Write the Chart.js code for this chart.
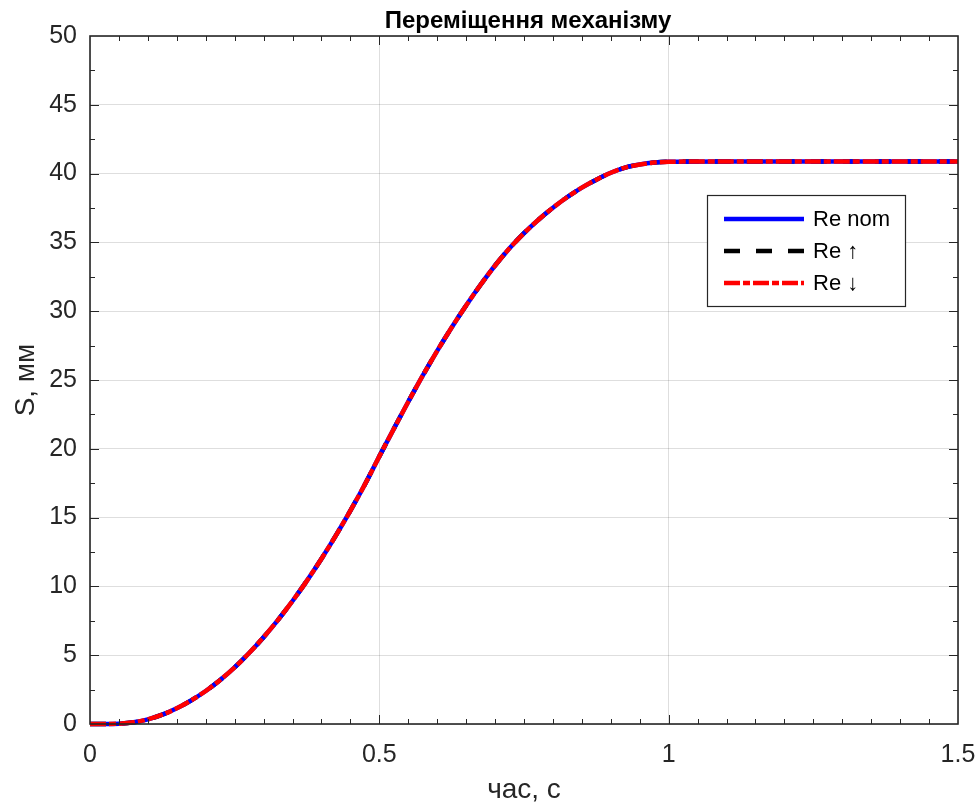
<!DOCTYPE html>
<html>
<head>
<meta charset="utf-8">
<script src="https://cdn.jsdelivr.net/npm/chart.js@4"></script>
<style>
  html, body { margin: 0; background: #fff; }
  #wrap { width: 980px; height: 812px; }
</style>
</head>
<body>
<div id="wrap"><canvas id="c" width="980" height="812"></canvas></div>
<script>
// time, s
const TIME = [0, 0.025, 0.05, 0.075, 0.1, 0.125, 0.15, 0.175, 0.2, 0.225, 0.25, 0.275, 0.3, 0.325,
  0.35, 0.375, 0.4, 0.425, 0.45, 0.475, 0.5, 0.525, 0.55, 0.575, 0.6, 0.625, 0.65, 0.675, 0.7,
  0.725, 0.75, 0.775, 0.8, 0.825, 0.85, 0.875, 0.9, 0.925, 0.95, 0.975, 1.0, 1.1, 1.2, 1.3, 1.4, 1.5];
// displacement, mm (— the three runs lie on top of each other)
const S_NOM = [0, 0, 0.02, 0.12, 0.34, 0.68, 1.14, 1.72, 2.4, 3.2, 4.12, 5.16, 6.31, 7.57,
  8.94, 10.42, 12.01, 13.71, 15.51, 17.41, 19.45, 21.45, 23.42, 25.32, 27.12, 28.82, 30.42, 31.92, 33.32,
  34.57, 35.67, 36.65, 37.52, 38.3, 38.98, 39.56, 40.06, 40.44, 40.66, 40.8, 40.86, 40.88, 40.88, 40.88, 40.88, 40.88];
const S_UP = [0, 0, 0.02, 0.12, 0.34, 0.68, 1.14, 1.72, 2.4, 3.2, 4.12, 5.16, 6.31, 7.57,
  8.94, 10.42, 12.01, 13.71, 15.51, 17.41, 19.45, 21.45, 23.42, 25.32, 27.12, 28.82, 30.42, 31.92, 33.32,
  34.57, 35.67, 36.65, 37.52, 38.3, 38.98, 39.56, 40.06, 40.44, 40.66, 40.8, 40.86, 40.88, 40.88, 40.88, 40.88, 40.88];
const S_DOWN = [0, 0, 0.02, 0.12, 0.34, 0.68, 1.14, 1.72, 2.4, 3.2, 4.12, 5.16, 6.31, 7.57,
  8.94, 10.42, 12.01, 13.71, 15.51, 17.41, 19.45, 21.45, 23.42, 25.32, 27.12, 28.82, 30.42, 31.92, 33.32,
  34.57, 35.67, 36.65, 37.52, 38.3, 38.98, 39.56, 40.06, 40.44, 40.66, 40.8, 40.86, 40.88, 40.88, 40.88, 40.88, 40.88];

const TITLE = "Переміщення механізму";
const SERIES_LABELS = ["Re nom", "Re ↑", "Re ↓"];
const X_TICKS = [0, 0.5, 1, 1.5];
const Y_TICKS = [0, 5, 10, 15, 20, 25, 30, 35, 40, 45, 50];

const INK = "#262626";
const FONT = "'Liberation Sans', Arial, sans-serif";

const pts = ys => TIME.map((t, i) => ({ x: t, y: ys[i] }));

// MATLAB-ish box: frame, inward major + minor ticks on all four sides, title over the
// plot area (not the canvas) and a boxed legend
const matlabAxes = {
  id: "matlabAxes",
  afterDraw(chart) {
    const { ctx, chartArea: a, scales: { x, y } } = chart;
    ctx.save();
    ctx.strokeStyle = INK;
    ctx.lineWidth = 1;
    const tick = (px, horiz, len) => {
      ctx.beginPath();
      if (horiz) {
        ctx.moveTo(px, a.bottom); ctx.lineTo(px, a.bottom - len);
        ctx.moveTo(px, a.top); ctx.lineTo(px, a.top + len);
      } else {
        ctx.moveTo(a.left, px); ctx.lineTo(a.left + len, px);
        ctx.moveTo(a.right, px); ctx.lineTo(a.right - len, px);
      }
      ctx.stroke();
    };
    for (let i = 1; i < 30; i++) tick(Math.round(x.getPixelForValue(i * 0.05)) + 0.5, true, i % 10 ? 5 : 9);
    for (let i = 1; i < 20; i++) tick(Math.round(y.getPixelForValue(i * 2.5)) + 0.5, false, i % 2 ? 5 : 9);
    ctx.lineWidth = 1.6;
    ctx.strokeRect(a.left, a.top, a.right - a.left, a.bottom - a.top);

    // title
    ctx.fillStyle = "#000";
    ctx.font = "bold 24px " + FONT;
    ctx.textAlign = "center";
    ctx.textBaseline = "alphabetic";
    ctx.fillText(TITLE, (a.left + a.right) / 2 + 4, 28);
    ctx.textAlign = "left";

    // legend
    const lx = 707, ly = 195, lw = 198, lh = 111;
    ctx.fillStyle = "#fff";
    ctx.fillRect(lx, ly, lw, lh);
    ctx.lineWidth = 1.2;
    ctx.strokeStyle = INK;
    ctx.strokeRect(lx + 0.5, ly + 0.5, lw, lh);
    const ds = chart.data.datasets;
    [0, 1, 2].forEach((k, r) => {
      const d = ds[k], yy = 219 + r * 32;
      ctx.beginPath();
      ctx.setLineDash(d.borderDash || []);
      ctx.lineWidth = d.borderWidth;
      ctx.strokeStyle = d.borderColor;
      ctx.moveTo(724, yy); ctx.lineTo(804, yy);
      ctx.stroke();
      ctx.setLineDash([]);
      ctx.fillStyle = "#000";
      ctx.font = "22px " + FONT;
      ctx.textBaseline = "middle";
      ctx.fillText(d.label, 813, yy + 1);
    });
    ctx.restore();
  }
};

new Chart(document.getElementById("c"), {
  type: "line",
  data: {
    datasets: [
      { label: SERIES_LABELS[0], data: pts(S_NOM), borderColor: "#0000ff", borderWidth: 4.5, order: 2 },
      { label: SERIES_LABELS[1], data: pts(S_UP), borderColor: "#000000", borderWidth: 4.5, borderDash: [16, 16], order: 3 },
      { label: SERIES_LABELS[2], data: pts(S_DOWN), borderColor: "#ff0000", borderWidth: 4.5, borderDash: [16, 3, 7, 3], order: 1 },
    ]
  },
  options: {
    responsive: false,
    animation: false,
    devicePixelRatio: 1,
    layout: { padding: { left: 0, right: 22, top: 36, bottom: 0 } },
    elements: {
      point: { radius: 0 },
      line: { cubicInterpolationMode: "monotone", borderCapStyle: "butt", fill: false }
    },
    datasets: { line: { clip: 8 } },
    plugins: {
      legend: { display: false },
      tooltip: { enabled: false },
      title: { display: false }
    },
    scales: {
      x: {
        type: "linear", min: 0, max: 1.5,
        afterFit: s => { s.height = 88; s.paddingLeft = 0; s.paddingRight = 0; },
        afterBuildTicks: s => { s.ticks = X_TICKS.map(v => ({ value: v })); },
        grid: { color: "rgba(0,0,0,0.13)", drawTicks: false },
        border: { display: false },
        ticks: { color: INK, padding: 16, font: { family: FONT, size: 25 }, callback: v => String(v) },
        title: { display: true, text: "час, с", color: INK, padding: 5, font: { family: FONT, size: 28 } }
      },
      y: {
        min: 0, max: 50,
        afterFit: s => { s.width = 90; s.paddingTop = 0; s.paddingBottom = 0; },
        afterBuildTicks: s => { s.ticks = Y_TICKS.map(v => ({ value: v })); },
        grid: { color: "rgba(0,0,0,0.13)", drawTicks: false },
        border: { display: false },
        ticks: { color: INK, padding: 13, font: { family: FONT, size: 25 }, callback: v => String(v) },
        title: { display: true, text: "S, мм", color: INK, padding: 9, font: { family: FONT, size: 28 } }
      }
    }
  },
  plugins: [matlabAxes]
});
</script>
</body>
</html>
